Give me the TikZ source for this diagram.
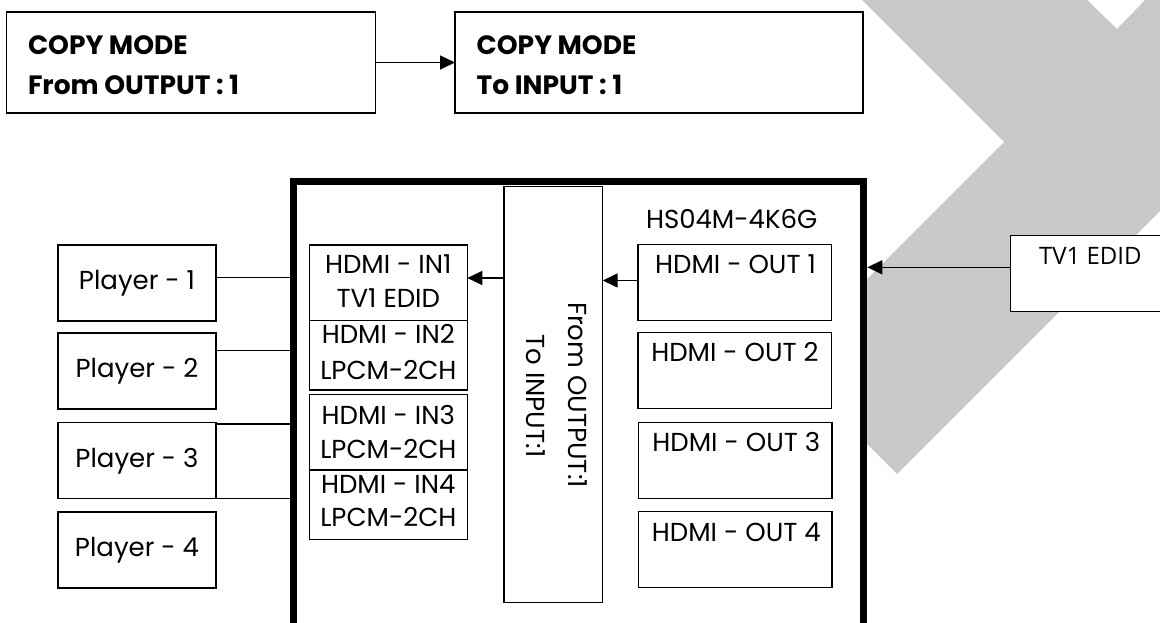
\documentclass[tikz,border=0pt]{standalone}
\usepackage{fontspec}
\setmainfont{Poppins}
\newfontfamily\opensans{Open Sans}
\usetikzlibrary{arrows.meta}
\definecolor{wm}{RGB}{200,200,200}
\begin{document}
\begin{tikzpicture}[x=1bp,y=-1bp,
  bx/.style={draw, line width=1.5bp, fill=white, rectangle, inner sep=0pt, outer sep=0pt, anchor=north west},
  tx/.style={inner sep=0pt, outer sep=0pt, font=\fontsize{26bp}{30bp}\selectfont},
  hd/.style={inner sep=0pt, outer sep=0pt, font=\bfseries\fontsize{26.5bp}{30bp}\selectfont},
  tvf/.style={inner sep=0pt, outer sep=0pt, font=\opensans\fontsize{24bp}{28bp}\selectfont},
  ln/.style={line width=1.5bp},
  ar/.style={ln, -{Triangle[length=15bp,width=14bp]}}]
\useasboundingbox (0,0) rectangle (1160,623);
\clip (0,0) rectangle (1160,623);
% watermark
\fill[wm] (862,0) -- (1004,142) -- (784.5,361.5) -- (897,474) -- (1170,201) -- (1170,-5) -- (1150,-5) -- (1117,29) -- (1082,-5) -- (857,-5) -- cycle;
% top boxes
\node[bx, minimum width=369bp, minimum height=101bp] (b1) at (6.5,12) {};
\node[bx, minimum width=408bp, minimum height=101bp] (b2) at (455,12) {};
\node[hd, anchor=base west] (b1a) at (28,55) {COPY MODE};
\node[hd, anchor=base west] (b1b) at (28,95) {From OUTPUT : 1};
\node[hd, anchor=base west] (b2a) at (476.7,55) {COPY MODE};
\node[hd, anchor=base west] (b2b) at (476.7,95) {To INPUT : 1};
\draw[ar] (b1.east) -- (b2.west);
% main box
\node[bx, line width=7.5bp, minimum width=570bp, minimum height=520bp] (hs) at (293.5,181.5) {};
% players
\node[bx, minimum width=158bp, minimum height=76bp] (p1) at (58,245) {};
\node[bx, minimum width=158bp, minimum height=76bp] (p2) at (58,333) {};
\node[bx, minimum width=158bp, minimum height=76bp] (p3) at (58,422.3) {};
\node[bx, minimum width=158bp, minimum height=76bp] (p4) at (58,512) {};
\node[tx, anchor=base] (p1t) at (137,289.3) {Player - 1};
\node[tx, anchor=base] (p2t) at (137,377.3) {Player - 2};
\node[tx, anchor=base] (p3t) at (137,467.3) {Player - 3};
\node[tx, anchor=base] (p4t) at (137,556.7) {Player - 4};
\draw[ln] ([yshift=5.3bp]p1.east) -- ([yshift=5.3bp]p1.east -| hs.west);
\draw[ln] ([yshift=20.7bp]p2.east) -- ([yshift=20.7bp]p2.east -| hs.west);
\draw[ln] ([yshift=-1.7bp]p3.north east) -- ([yshift=-1.7bp]p3.north east -| hs.west);
\draw[ln] (p3.south east) -- (p3.south east -| hs.west);
% inputs
\node[bx, minimum width=158bp, minimum height=75.7bp] (in1) at (309.3,245) {};
\node[bx, minimum width=158bp, minimum height=69.3bp] (in2) at (309.3,320.7) {};
\node[bx, minimum width=158bp, minimum height=75.7bp] (in3) at (309.3,394.3) {};
\node[bx, minimum width=158bp, minimum height=69.3bp] (in4) at (309.3,470) {};
\node[tx, anchor=base] (in1a) at (388.3,274) {HDMI - IN1};
\node[tx, anchor=base] (in1b) at (388.3,307.3) {TV1 EDID};
\node[tx, anchor=base] (in2a) at (388.3,344) {HDMI - IN2};
\node[tx, anchor=base] (in2b) at (388.3,379) {LPCM-2CH};
\node[tx, anchor=base] (in3a) at (388.3,424) {HDMI - IN3};
\node[tx, anchor=base] (in3b) at (388.3,458.7) {LPCM-2CH};
\node[tx, anchor=base] (in4a) at (388.3,493.3) {HDMI - IN4};
\node[tx, anchor=base] (in4b) at (388.3,526.7) {LPCM-2CH};
% vertical box
\node[bx, minimum width=98.7bp, minimum height=415.8bp] (vb) at (504,186.7) {};
\node[tx, rotate=-90, anchor=base] (vba) at (568.3,395) {From OUTPUT:1};
\node[tx, rotate=-90, anchor=base] (vbb) at (526.7,396) {To INPUT:1};
% outputs
\node[tx, anchor=base] (hsn) at (731.7,228.3) {HS04M-4K6G};
\node[bx, minimum width=193.5bp, minimum height=76bp] (o1) at (638,244.3) {};
\node[bx, minimum width=193.5bp, minimum height=76bp] (o2) at (638,332.3) {};
\node[bx, minimum width=193.5bp, minimum height=76bp] (o3) at (638.5,422.3) {};
\node[bx, minimum width=193.5bp, minimum height=76bp] (o4) at (638.5,511.7) {};
\node[tx, anchor=base] (o1t) at (735.5,274) {HDMI - OUT 1};
\node[tx, anchor=base] (o2t) at (735,361.7) {HDMI - OUT 2};
\node[tx, anchor=base] (o3t) at (736.3,451.7) {HDMI - OUT 3};
\node[tx, anchor=base] (o4t) at (736.3,541.7) {HDMI - OUT 4};
% arrows inside
\draw[ar] ([yshift=4.85bp]in1.east -| vb.west) -- ([yshift=4.85bp]in1.east);
\draw[ar] ([yshift=1.8bp]o1.west) -- ([yshift=1.8bp]o1.west -| vb.east);
% TV1 EDID
\node[bx, minimum width=180bp, minimum height=76bp] (tv) at (1010.7,235.7) {};
\node[tvf, anchor=base west] (tvt) at (1039,264.3) {TV1 EDID};
\draw[ar, shorten >=3.8bp] ([yshift=6.4bp]tv.west) -- ([yshift=6.4bp]tv.west -| hs.east);
\end{tikzpicture}
\end{document}
